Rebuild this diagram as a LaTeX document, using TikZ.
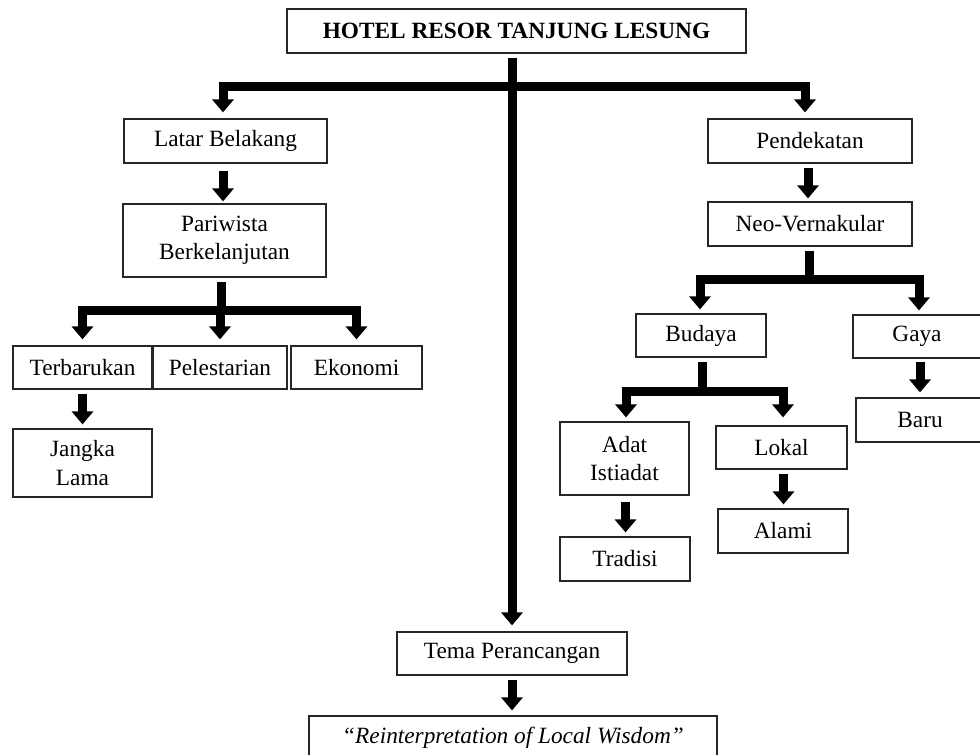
\documentclass[tikz,border=0pt]{standalone}
\usepackage{fontspec}
\setmainfont{Liberation Serif}
\usetikzlibrary{arrows.meta}
\begin{document}
\begin{tikzpicture}[x=1pt,y=-1pt,
  box/.style={draw=black!85, line width=1.2pt, inner sep=0pt, align=center,
    font=\fontsize{23.3}{28.5}\selectfont},
  ln/.style={line width=9pt, line join=miter},
  arr/.style={ln, -{Triangle[width=21pt,length=13pt]}, shorten <=4pt, shorten >=4pt}]
\useasboundingbox (0,0) rectangle (980,755);
\clip (0,0) rectangle (980,755);

% nodes
\node[box, minimum width=459pt, minimum height=44pt] (top) at (516.5,31) {\textbf{HOTEL RESOR TANJUNG LESUNG}};
\node[box, minimum width=203pt, minimum height=44pt] (latar) at (225.5,141) {Latar Belakang};
\node[box, minimum width=203pt, minimum height=73pt] (pari) at (224.5,240.5) {Pariwista\\Berkelanjutan};
\node[box, minimum width=139pt, minimum height=43pt] (terb) at (82.5,367.5) {Terbarukan};
\node[box, minimum width=134pt, minimum height=43pt] (pel) at (220,367.5) {Pelestarian};
\node[box, minimum width=131pt, minimum height=43pt] (eko) at (356.5,367.5) {Ekonomi};
\node[box, minimum width=139pt, minimum height=68pt] (jangka) at (82.5,463) {Jangka\\Lama};
\node[box, minimum width=204pt, minimum height=44pt] (pend) at (810,141) {Pendekatan};
\node[box, minimum width=204pt, minimum height=44pt] (neo) at (810,224) {Neo-Vernakular};
\node[box, minimum width=130pt, minimum height=43pt] (budaya) at (701,335.5) {Budaya};
\node[box, minimum width=128pt, minimum height=43pt] (gaya) at (917,336.5) {Gaya};
\node[box, minimum width=129pt, minimum height=73pt] (adat) at (624.5,458.5) {Adat\\Istiadat};
\node[box, minimum width=131pt, minimum height=43pt] (lokal) at (781.5,447.5) {Lokal};
\node[box, minimum width=130pt, minimum height=44pt] (tradisi) at (625,559) {Tradisi};
\node[box, minimum width=130pt, minimum height=44pt] (alami) at (783,531) {Alami};
\node[box, minimum width=128pt, minimum height=44pt] (baru) at (920,420) {Baru};
\node[box, minimum width=230pt, minimum height=43pt] (tema) at (512,653.5) {Tema Perancangan};
\node[box, minimum width=408pt, minimum height=44pt] (reint) at (513,738) {\textit{“Reinterpretation of Local Wisdom”}};

% junction coordinates
\coordinate (hb) at (512,86);
\coordinate (pb) at (221,310);
\coordinate (nb) at (809,279);
\coordinate (bb) at (702,391);

% central spine
\draw[arr, shorten >=6pt] (top.south -| tema.north) -- (tema.north);
\draw[arr, shorten <=0pt, shorten >=6pt] (hb) -| ([xshift=-2.5pt]latar.north);
\draw[arr, shorten <=0pt, shorten >=6pt] (hb) -| ([xshift=-5pt]pend.north);

% left branch
\draw[arr, shorten <=7pt, shorten >=2pt] ([xshift=-2.5pt]latar.south) -- ([xshift=-1.5pt]pari.north);
\draw[ln, shorten <=4pt] (pari.south -| pb) -- (pb);
\draw[arr, shorten <=0pt, shorten >=6pt] (pb) -| (terb.north);
\draw[arr, shorten <=0pt, shorten >=6pt] (pb -| pel.north) -- (pel.north);
\draw[arr, shorten <=0pt, shorten >=6pt] (pb) -| (eko.north);
\draw[arr] (terb.south) -- (jangka.north);

% right branch
\draw[arr, shorten >=3pt] ([xshift=-2pt]pend.south) -- ([xshift=-2pt]neo.north);
\draw[ln, shorten <=4pt] (neo.south -| nb) -- (nb);
\draw[arr, shorten <=0pt] (nb) -| ([xshift=-1pt]budaya.north);
\draw[arr, shorten <=0pt] (nb) -| ([xshift=2pt]gaya.north);
\draw[ln, shorten <=4pt] (budaya.south -| bb) -- (bb);
\draw[arr, shorten <=0pt] (bb) -| ([xshift=1.5pt]adat.north);
\draw[arr, shorten <=0pt, shorten >=8pt] (bb) -| ([xshift=1.5pt]lokal.north);
\draw[arr, shorten <=6pt] ([xshift=1pt]adat.south) -- ([xshift=1pt]adat.south |- tradisi.north);
\draw[arr] ([xshift=2pt]lokal.south) -- ([xshift=2pt]lokal.south |- alami.north);
\draw[arr, shorten <=3pt, shorten >=5pt] (gaya.south -| baru.north) -- (baru.north);

% bottom
\draw[arr, shorten >=5pt] (tema.south) -- (tema.south |- reint.north);
\end{tikzpicture}
\end{document}
